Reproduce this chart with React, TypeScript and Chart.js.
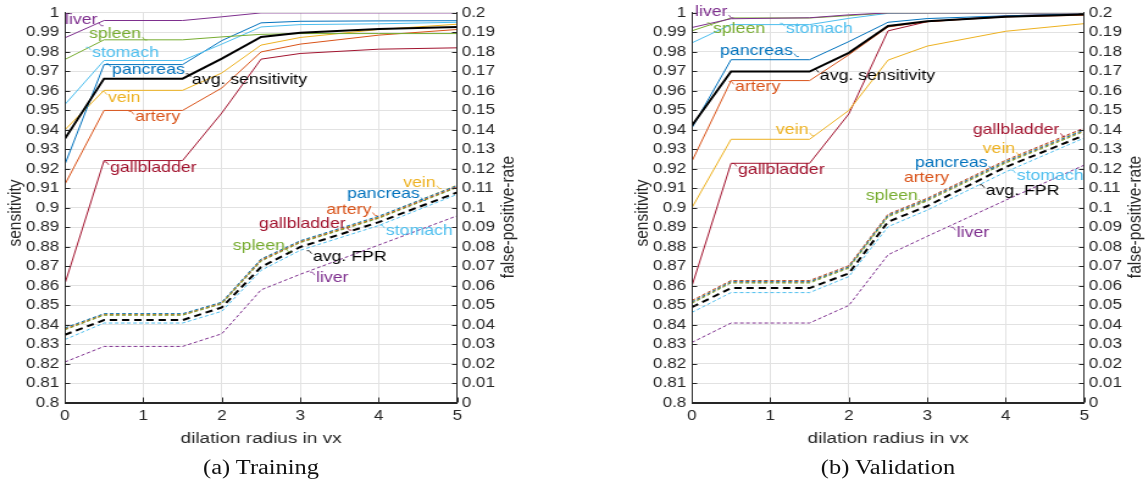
import React, { useEffect, useRef } from 'react';
import { Chart, registerables } from 'chart.js';

Chart.register(...registerables);

// ---------- data ----------
const radius = [0, 0.5, 1.5, 2, 2.5, 3, 4, 5];
const xTicks = [0, 1, 2, 3, 4, 5];

// Training: sensitivity
const trainSensAvg = [0.9354, 0.9663, 0.9663, 0.9766, 0.9877, 0.9898, 0.9917, 0.9928];
const trainSensLiver = [0.9872, 0.9961, 0.9961, 0.998, 1.0, 1.0, 1.0, 1.0];
const trainSensSpleen = [0.9761, 0.9862, 0.9862, 0.9877, 0.989, 0.9894, 0.9894, 0.9894];
const trainSensStomach = [0.953, 0.9756, 0.9756, 0.984, 0.9928, 0.994, 0.9944, 0.9952];
const trainSensPancreas = [0.9222, 0.9735, 0.9735, 0.9858, 0.9949, 0.9957, 0.9959, 0.996];
const trainSensVein = [0.94, 0.9603, 0.9603, 0.9692, 0.9835, 0.9874, 0.9915, 0.9942];
const trainSensArtery = [0.912, 0.95, 0.95, 0.9615, 0.98, 0.984, 0.9886, 0.9915];
const trainSensGallbladder = [0.861, 0.9243, 0.9243, 0.9487, 0.9763, 0.9792, 0.9814, 0.9821];

// Training: false-positive-rate
const trainFprAvg = [0.035, 0.0425, 0.0425, 0.049, 0.0697, 0.08, 0.0927, 0.108];
const trainFprLiver = [0.021, 0.029, 0.029, 0.0355, 0.058, 0.066, 0.081, 0.096];
const trainFprSpleen = [0.0375, 0.045, 0.045, 0.0508, 0.0727, 0.0822, 0.0947, 0.1105];
const trainFprStomach = [0.0325, 0.041, 0.041, 0.047, 0.068, 0.0783, 0.091, 0.107];
const trainFprPancreas = [0.0385, 0.0458, 0.0458, 0.0517, 0.0738, 0.0832, 0.0958, 0.1115];
const trainFprVein = [0.0383, 0.0456, 0.0456, 0.0515, 0.0737, 0.083, 0.0955, 0.1118];
const trainFprArtery = [0.038, 0.0454, 0.0454, 0.0513, 0.0733, 0.0827, 0.0952, 0.111];
const trainFprGallbladder = [0.0378, 0.0452, 0.0452, 0.0511, 0.073, 0.0825, 0.095, 0.1108];

// Validation: sensitivity
const valSensAvg = [0.9422, 0.9699, 0.9699, 0.9795, 0.9933, 0.9957, 0.998, 0.9992];
const valSensLiver = [0.9925, 0.997, 0.9975, 0.999, 1.0, 1.0, 1.0, 1.0];
const valSensSpleen = [0.9908, 0.9974, 0.9974, 0.9986, 1.0, 1.0, 1.0, 1.0];
const valSensStomach = [0.9846, 0.994, 0.994, 0.9972, 0.9998, 1.0, 1.0, 1.0];
const valSensPancreas = [0.9409, 0.976, 0.976, 0.9853, 0.9952, 0.9971, 0.9985, 0.9995];
const valSensVein = [0.9, 0.9352, 0.9352, 0.95, 0.9758, 0.983, 0.9906, 0.9945];
const valSensArtery = [0.9238, 0.9653, 0.9653, 0.9785, 0.9928, 0.9955, 0.998, 0.9988];
const valSensGallbladder = [0.8598, 0.9229, 0.9229, 0.9482, 0.9908, 0.9955, 0.9985, 0.9995];

// Validation: false-positive-rate
const valFprAvg = [0.0491, 0.0589, 0.0589, 0.0665, 0.0929, 0.101, 0.121, 0.1373];
const valFprLiver = [0.031, 0.041, 0.041, 0.05, 0.076, 0.0855, 0.104, 0.122];
const valFprSpleen = [0.051, 0.0615, 0.0615, 0.0691, 0.0954, 0.1036, 0.123, 0.1392];
const valFprStomach = [0.0464, 0.0566, 0.0566, 0.0648, 0.0904, 0.0989, 0.1185, 0.1359];
const valFprPancreas = [0.0518, 0.0622, 0.0622, 0.0698, 0.0962, 0.1044, 0.1238, 0.14];
const valFprVein = [0.0522, 0.0625, 0.0625, 0.0701, 0.0965, 0.1047, 0.1242, 0.1405];
const valFprArtery = [0.0514, 0.0619, 0.0619, 0.0695, 0.0958, 0.104, 0.1234, 0.1396];
const valFprGallbladder = [0.0525, 0.0628, 0.0628, 0.0704, 0.0968, 0.105, 0.1245, 0.141];

// ---------- style ----------
const C = {
  avg: '#000000',
  liver: '#7E2F8E',
  spleen: '#77AC30',
  stomach: '#4DBEEE',
  pancreas: '#0072BD',
  vein: '#EDB120',
  artery: '#D95319',
  gallbladder: '#A2142F',
};
const AX = '#262626';
const GRID = '#e2e2e2';
const FONT = "'Liberation Sans', Arial, sans-serif";
const SX = 1.22; // horizontal stretch of the figure
const CW = 427;
const CH = 450;
const PL = 64.8 / SX;
const PR = 457.3 / SX;

type Lab = { text: string; color: string; x: number; y: number; axis: 'yS' | 'yF'; lead?: 'l' | 'r' };

const trainLabels: Lab[] = [
  { text: 'liver', color: C.liver, x: 0.003, y: 0.9965, axis: 'yS', lead: 'r' },
  { text: 'spleen', color: C.spleen, x: 0.308, y: 0.9892, axis: 'yS', lead: 'r' },
  { text: 'stomach', color: C.stomach, x: 0.347, y: 0.9793, axis: 'yS', lead: 'l' },
  { text: 'pancreas', color: C.pancreas, x: 0.602, y: 0.9708, axis: 'yS', lead: 'l' },
  { text: 'avg. sensitivity', color: C.avg, x: 1.62, y: 0.9657, axis: 'yS', lead: 'l' },
  { text: 'vein', color: C.vein, x: 0.55, y: 0.9566, axis: 'yS', lead: 'l' },
  { text: 'artery', color: C.artery, x: 0.894, y: 0.9464, axis: 'yS', lead: 'l' },
  { text: 'gallbladder', color: C.gallbladder, x: 0.576, y: 0.9205, axis: 'yS', lead: 'l' },
  { text: 'vein', color: C.vein, x: 4.31, y: 0.113, axis: 'yF', lead: 'r' },
  { text: 'pancreas', color: C.pancreas, x: 3.595, y: 0.1069, axis: 'yF', lead: 'r' },
  { text: 'artery', color: C.artery, x: 3.33, y: 0.0992, axis: 'yF', lead: 'r' },
  { text: 'gallbladder', color: C.gallbladder, x: 2.475, y: 0.0917, axis: 'yF', lead: 'r' },
  { text: 'stomach', color: C.stomach, x: 4.09, y: 0.0881, axis: 'yF', lead: 'l' },
  { text: 'spleen', color: C.spleen, x: 2.14, y: 0.0806, axis: 'yF', lead: 'r' },
  { text: 'avg. FPR', color: C.avg, x: 3.16, y: 0.075, axis: 'yF', lead: 'l' },
  { text: 'liver', color: C.liver, x: 3.2, y: 0.064, axis: 'yF', lead: 'l' },
];

const valLabels: Lab[] = [
  { text: 'liver', color: C.liver, x: 0.042, y: 1.0005, axis: 'yS', lead: 'r' },
  { text: 'spleen', color: C.spleen, x: 0.271, y: 0.9918, axis: 'yS', lead: 'l' },
  { text: 'stomach', color: C.stomach, x: 1.2, y: 0.9916, axis: 'yS', lead: 'l' },
  { text: 'pancreas', color: C.pancreas, x: 0.36, y: 0.9807, axis: 'yS', lead: 'r' },
  { text: 'avg. sensitivity', color: C.avg, x: 1.632, y: 0.9679, axis: 'yS', lead: 'l' },
  { text: 'artery', color: C.artery, x: 0.551, y: 0.9618, axis: 'yS', lead: 'l' },
  { text: 'vein', color: C.vein, x: 1.072, y: 0.9401, axis: 'yS', lead: 'r' },
  { text: 'gallbladder', color: C.gallbladder, x: 0.589, y: 0.9197, axis: 'yS', lead: 'l' },
  { text: 'gallbladder', color: C.gallbladder, x: 3.579, y: 0.1398, axis: 'yF', lead: 'r' },
  { text: 'vein', color: C.vein, x: 3.706, y: 0.1301, axis: 'yF', lead: 'r' },
  { text: 'pancreas', color: C.pancreas, x: 2.841, y: 0.1231, axis: 'yF', lead: 'r' },
  { text: 'artery', color: C.artery, x: 2.701, y: 0.1154, axis: 'yF' },
  { text: 'stomach', color: C.stomach, x: 4.139, y: 0.1163, axis: 'yF', lead: 'l' },
  { text: 'spleen', color: C.spleen, x: 2.216, y: 0.106, axis: 'yF', lead: 'r' },
  { text: 'avg. FPR', color: C.avg, x: 3.744, y: 0.1088, axis: 'yF', lead: 'l' },
  { text: 'liver', color: C.liver, x: 3.375, y: 0.087, axis: 'yF', lead: 'l' },
];

type Series = { color: string; values: number[]; width: number };

const trainSens: Series[] = [
  { color: C.avg, values: trainSensAvg, width: 2 },
  { color: C.liver, values: trainSensLiver, width: 1 },
  { color: C.spleen, values: trainSensSpleen, width: 1 },
  { color: C.stomach, values: trainSensStomach, width: 1 },
  { color: C.pancreas, values: trainSensPancreas, width: 1 },
  { color: C.vein, values: trainSensVein, width: 1 },
  { color: C.artery, values: trainSensArtery, width: 1 },
  { color: C.gallbladder, values: trainSensGallbladder, width: 1 },
];
const trainFpr: Series[] = [
  { color: C.avg, values: trainFprAvg, width: 2 },
  { color: C.liver, values: trainFprLiver, width: 1 },
  { color: C.spleen, values: trainFprSpleen, width: 1 },
  { color: C.stomach, values: trainFprStomach, width: 1 },
  { color: C.pancreas, values: trainFprPancreas, width: 1 },
  { color: C.vein, values: trainFprVein, width: 1 },
  { color: C.artery, values: trainFprArtery, width: 1 },
  { color: C.gallbladder, values: trainFprGallbladder, width: 1 },
];
const valSens: Series[] = [
  { color: C.avg, values: valSensAvg, width: 2 },
  { color: C.liver, values: valSensLiver, width: 1 },
  { color: C.spleen, values: valSensSpleen, width: 1 },
  { color: C.stomach, values: valSensStomach, width: 1 },
  { color: C.pancreas, values: valSensPancreas, width: 1 },
  { color: C.vein, values: valSensVein, width: 1 },
  { color: C.artery, values: valSensArtery, width: 1 },
  { color: C.gallbladder, values: valSensGallbladder, width: 1 },
];
const valFpr: Series[] = [
  { color: C.avg, values: valFprAvg, width: 2 },
  { color: C.liver, values: valFprLiver, width: 1 },
  { color: C.spleen, values: valFprSpleen, width: 1 },
  { color: C.stomach, values: valFprStomach, width: 1 },
  { color: C.pancreas, values: valFprPancreas, width: 1 },
  { color: C.vein, values: valFprVein, width: 1 },
  { color: C.artery, values: valFprArtery, width: 1 },
  { color: C.gallbladder, values: valFprGallbladder, width: 1 },
];

const fmt = (v: number) => String(+Number(v).toFixed(2));

function Panel({ sens, fpr, labels, caption, left }: { sens: Series[]; fpr: Series[]; labels: Lab[]; caption: string; left: number }) {
  const ref = useRef<HTMLCanvasElement | null>(null);
  useEffect(() => {
    if (!ref.current) return;
    const datasets: any[] = [];
    sens.forEach((s) => {
      datasets.push({
        data: radius.map((r, i) => ({ x: r, y: s.values[i] })),
        yAxisID: 'yS',
        borderColor: s.color,
        borderWidth: s.width,
        pointRadius: 0,
        tension: 0,
        fill: false,
      });
    });
    fpr.forEach((s) => {
      datasets.push({
        data: radius.map((r, i) => ({ x: r, y: s.values[i] })),
        yAxisID: 'yF',
        borderColor: s.color,
        borderWidth: s.width,
        borderDash: s.width > 1 ? [6, 4] : [3, 2],
        pointRadius: 0,
        tension: 0,
        fill: false,
      });
    });

    const decor = {
      id: 'decor',
      afterDatasetsDraw(chart: any) {
        const { ctx, chartArea: a, scales } = chart;
        ctx.save();
        ctx.strokeStyle = AX;
        ctx.lineWidth = 1;
        ctx.beginPath();
        const lx = Math.round(a.left) + 0.5;
        const rx = Math.round(a.right) - 0.5;
        const by = Math.round(a.bottom) - 0.5;
        ctx.moveTo(lx, a.top);
        ctx.lineTo(lx, by);
        ctx.lineTo(rx, by);
        ctx.lineTo(rx, a.top);
        scales.yS.ticks.forEach((t: any) => {
          const p = Math.round(scales.yS.getPixelForValue(t.value)) + 0.5;
          ctx.moveTo(lx, p);
          ctx.lineTo(lx + 4, p);
        });
        scales.yF.ticks.forEach((t: any) => {
          const p = Math.round(scales.yF.getPixelForValue(t.value)) + 0.5;
          ctx.moveTo(rx, p);
          ctx.lineTo(rx - 4, p);
        });
        xTicks.forEach((v) => {
          const p = Math.round(scales.x.getPixelForValue(v)) + 0.5;
          ctx.moveTo(p, by);
          ctx.lineTo(p, by - 5);
        });
        ctx.stroke();

        ctx.font = `14.5px ${FONT}`;
        ctx.textBaseline = 'middle';
        ctx.textAlign = 'left';
        labels.forEach((l) => {
          const px = scales.x.getPixelForValue(l.x);
          const py = scales[l.axis].getPixelForValue(l.y);
          const w = ctx.measureText(l.text).width;
          ctx.fillStyle = l.color;
          ctx.fillText(l.text, px, py);
          if (l.lead) {
            ctx.strokeStyle = l.color;
            ctx.lineWidth = 0.8;
            ctx.beginPath();
            if (l.lead === 'l') {
              ctx.moveTo(px - 1, py - 3);
              ctx.lineTo(px - 3, py - 6);
              ctx.lineTo(px - 5, py - 6);
            } else {
              ctx.moveTo(px + w + 1, py + 3);
              ctx.lineTo(px + w + 3, py + 6);
              ctx.lineTo(px + w + 5, py + 6);
            }
            ctx.stroke();
          }
        });
        ctx.restore();
      },
      afterDraw(chart: any) {
        const { ctx, chartArea: a } = chart;
        ctx.save();
        ctx.fillStyle = AX;
        ctx.font = `15.5px ${FONT}`;
        ctx.textAlign = 'center';
        ctx.textBaseline = 'middle';
        ctx.fillText('dilation radius in vx', (a.left + a.right) / 2, 439);
        ctx.save();
        ctx.translate(16 / SX, 213);
        ctx.rotate(-Math.PI / 2);
        ctx.fillText('sensitivity', 0, 0);
        ctx.restore();
        ctx.save();
        ctx.translate(508.5 / SX, 217);
        ctx.rotate(-Math.PI / 2);
        ctx.fillText('false-positive-rate', 0, 0);
        ctx.restore();
        ctx.restore();
      },
    };

    const tickFont = { family: FONT, size: 14 };
    const chart = new Chart(ref.current, {
      type: 'line',
      data: { datasets },
      plugins: [decor],
      options: {
        animation: false,
        responsive: false,
        devicePixelRatio: 1,
        layout: { padding: { top: 11, left: 0, right: 0, bottom: 0 } },
        plugins: { legend: { display: false }, tooltip: { enabled: false }, title: { display: false } },
        scales: {
          x: {
            type: 'linear',
            min: 0,
            max: 5,
            ticks: { stepSize: 1, padding: 5, color: AX, font: tickFont, maxRotation: 0, autoSkip: false },
            grid: { color: GRID, drawTicks: false },
            border: { color: AX },
            afterFit: (s: any) => { s.height = CH - 403; },
          },
          yS: {
            type: 'linear',
            position: 'left',
            min: 0.8,
            max: 1,
            ticks: { stepSize: 0.01, maxTicksLimit: 100, autoSkip: false, padding: 4.5, color: AX, font: tickFont, callback: (v: any) => fmt(v) },
            grid: { color: GRID, drawTicks: false },
            border: { color: AX },
            afterFit: (s: any) => { s.width = PL; },
          },
          yF: {
            type: 'linear',
            position: 'right',
            min: 0,
            max: 0.2,
            ticks: { stepSize: 0.01, maxTicksLimit: 100, autoSkip: false, padding: 3.6, color: AX, font: tickFont, callback: (v: any) => fmt(v) },
            grid: { drawOnChartArea: false, drawTicks: false },
            border: { color: AX },
            afterFit: (s: any) => { s.width = CW - PR; },
          },
        },
      } as any,
    });
    return () => chart.destroy();
  }, []);

  return (
    <div
      style={{
        position: 'absolute',
        left,
        top: 0,
        width: CW,
        height: 483,
        transform: `scaleX(${SX})`,
        transformOrigin: '0 0',
      }}
    >
      <canvas ref={ref} width={CW} height={CH} style={{ display: 'block' }} />
      <div
        style={{
          position: 'absolute',
          left: 0,
          top: 453,
          width: PL + PR,
          textAlign: 'center',
          fontFamily: "'Liberation Serif', 'Times New Roman', serif",
          fontSize: 20,
          lineHeight: '28px',
          color: '#111',
        }}
      >
        {caption}
      </div>
    </div>
  );
}

export default function App() {
  return (
    <div style={{ position: 'fixed', left: 0, top: 0, width: 1148, height: 483, background: '#fff', overflow: 'hidden' }}>
      <Panel sens={trainSens} fpr={trainFpr} labels={trainLabels} caption="(a) Training" left={0} />
      <Panel sens={valSens} fpr={valFpr} labels={valLabels} caption="(b) Validation" left={627} />
    </div>
  );
}
